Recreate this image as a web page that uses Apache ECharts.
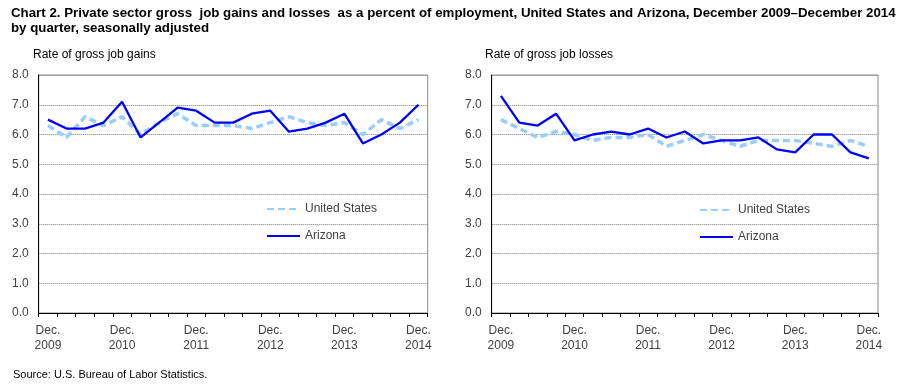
<!DOCTYPE html>
<html><head><meta charset="utf-8">
<script src="https://cdn.jsdelivr.net/npm/echarts@6/dist/echarts.min.js"></script>
<style>html,body{margin:0;padding:0;background:#fff}#c{width:901px;height:385px}</style>
</head><body><div id="c"></div>
<script>
const categories = ['Dec. 2009','Mar. 2010','Jun. 2010','Sep. 2010','Dec. 2010','Mar. 2011','Jun. 2011','Sep. 2011','Dec. 2011','Mar. 2012','Jun. 2012','Sep. 2012','Dec. 2012','Mar. 2013','Jun. 2013','Sep. 2013','Dec. 2013','Mar. 2014','Jun. 2014','Sep. 2014','Dec. 2014'];
const gainsUS = [6.3,5.9,6.6,6.3,6.6,6.0,6.4,6.7,6.3,6.3,6.3,6.2,6.4,6.6,6.4,6.3,6.4,6.0,6.5,6.2,6.5];
const gainsAZ = [6.5,6.2,6.2,6.4,7.1,5.9,6.4,6.9,6.8,6.4,6.4,6.7,6.8,6.1,6.2,6.4,6.7,5.7,6.0,6.4,7.0];
const lossesUS = [6.5,6.2,5.9,6.1,6.0,5.8,5.9,5.9,6.0,5.6,5.8,6.0,5.8,5.6,5.8,5.8,5.8,5.7,5.6,5.8,5.6];
const lossesAZ = [7.3,6.4,6.3,6.7,5.8,6.0,6.1,6.0,6.2,5.9,6.1,5.7,5.8,5.8,5.9,5.5,5.4,6.0,6.0,5.4,5.2];
const yTicks = ['0.0','1.0','2.0','3.0','4.0','5.0','6.0','7.0','8.0'];

const FONT = 'Liberation Sans, Arial, sans-serif';
const chart = echarts.init(document.getElementById('c'), null, {renderer:'canvas'});

function xAxis(gi){
  return {
    type:'category', gridIndex:gi, data:categories, boundaryGap:true,
    axisLine:{show:true, lineStyle:{color:'#000', width:1}},
    axisTick:{show:true, interval:0, length:4, lineStyle:{color:'#000'}},
    axisLabel:{interval:3, color:'#404040', fontFamily:FONT, fontSize:12, lineHeight:15, margin:10,
      formatter:v=>v.replace(' ','\n')},
    splitLine:{show:false}
  };
}
function yAxis(gi){
  return {
    type:'value', gridIndex:gi, min:0, max:8, interval:1,
    axisLine:{show:true, lineStyle:{color:'#000', width:1}},
    axisTick:{show:false},
    axisLabel:{color:'#404040', fontFamily:FONT, fontSize:12, margin:10,
      formatter:v=>yTicks[Math.round(v)]},
    splitLine:{show:true, lineStyle:{color:'#7a7a7a', width:1, type:[1,1]}}
  };
}
const usStyle = {color:'#99CCFF', width:3.5, type:[7,4]};
const azStyle = {color:'#0000FF', width:2.3};
function ser(name, data, gi, style){
  return {name, type:'line', xAxisIndex:gi, yAxisIndex:gi, data, symbol:'none',
    lineStyle:style, itemStyle:{color:style.color}, animation:false, silent:true};
}
const legendCommon = {orient:'vertical', itemWidth:33, itemHeight:14, itemGap:15,
  itemStyle:{opacity:0},
  textStyle:{color:'#404040', fontFamily:FONT, fontSize:12}, data:['United States','Arizona'],
  selectedMode:false};

chart.setOption({
  animation:false,
  title:[
    {text:'Chart 2. Private sector gross  job gains and losses  as a percent of employment, United States and Arizona, December 2009–December 2014\nby quarter, seasonally adjusted',
     left:6, top:1, textStyle:{fontFamily:FONT, fontSize:13.3, fontWeight:'bold', color:'#000', lineHeight:15}},
    {text:'Rate of gross job gains', left:28, top:44, textStyle:{fontFamily:FONT, fontSize:12, fontWeight:'normal', color:'#000'}},
    {text:'Rate of gross job losses', left:480, top:44, textStyle:{fontFamily:FONT, fontSize:12, fontWeight:'normal', color:'#000'}},
    {text:'Source: U.S. Bureau of Labor Statistics.', left:8, top:364, textStyle:{fontFamily:FONT, fontSize:11, fontWeight:'normal', color:'#000'}}
  ],
  grid:[
    {left:38.7, top:75, width:389, height:238, show:true, borderColor:'#8a8a8a', borderWidth:1, backgroundColor:'#fff'},
    {left:491.7, top:75, width:386.3, height:238, show:true, borderColor:'#8a8a8a', borderWidth:1, backgroundColor:'#fff'}
  ],
  xAxis:[xAxis(0), xAxis(1)],
  yAxis:[yAxis(0), yAxis(1)],
  legend:[
    Object.assign({left:261, top:198}, legendCommon),
    Object.assign({left:694, top:199}, legendCommon)
  ],
  series:[
    ser('United States', gainsUS, 0, usStyle),
    ser('Arizona', gainsAZ, 0, azStyle),
    ser('United States', lossesUS, 1, usStyle),
    ser('Arizona', lossesAZ, 1, azStyle)
  ]
});
</script></body></html>
